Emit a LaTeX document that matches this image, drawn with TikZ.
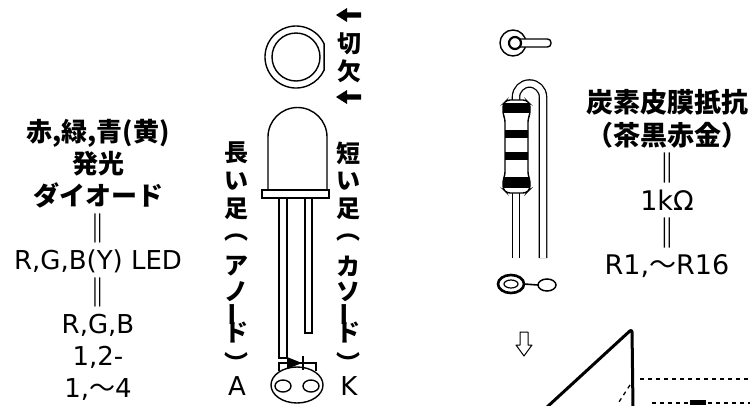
\documentclass[tikz,border=0pt]{standalone}
\usepackage{fontspec}
\usepackage{graphicx}
\setmainfont{DejaVu Sans}
\newfontfamily\jp{Noto Sans CJK JP}
\newcommand{\dbar}{{\jp\bfseries\raisebox{-1.5pt}{\scalebox{1.1}[1.12]{‖}}}}
\begin{document}
\begin{tikzpicture}[x=1pt,y=-1pt,
  lbl/.style={inner sep=0pt, align=center, font=\fontsize{26}{32}\selectfont},
  vch/.style={inner sep=0pt, font=\jp\bfseries\fontsize{24}{24}\selectfont},
  part/.style={draw=black, line width=1.4pt},
  lead/.style={draw=black, line width=1.3pt, double=white, double distance=6pt},
  heavy/.style={line width=3pt, line cap=round, line join=round},
  dotline/.style={line width=1.3pt, dash pattern=on 4pt off 4pt},
]
\useasboundingbox (0,0) rectangle (750,405);

% ---------- LED name column ----------
\node[lbl] (ledname) at (98,260) {%
  {\jp\bfseries 赤,緑,青(黄)}\\
  {\jp\bfseries 発光}\\
  {\jp\bfseries ダイオード}\\
  \dbar\\
  R,G,B(Y) LED\\
  \dbar\\
  R,G,B\\
  1,2-\\
  1,{\jp 〜}4};

% ---------- LED top view with flat ----------
\draw[part] (324.1,43.9) arc[start angle=25, end angle=335, radius=31pt] -- cycle;
\draw[part] (296,57) circle[radius=24pt];
% arrows pointing at the flat
\foreach \yy in {15,97}
  \fill (336,\yy) -- (347,\yy-7) -- (347,\yy-2.6) -- (361,\yy-2.6)
        -- (361,\yy+2.6) -- (347,\yy+2.6) -- (347,\yy+7) -- cycle;
\node[vch] (kiri) at (349,44) {切};
\node[vch] (ketsu) at (349,71) {欠};

% ---------- LED side view ----------
\draw[part, fill=white] (279,197) rectangle (287,358);
\draw[part, fill=white] (305,197) rectangle (312,333);
\draw[part, fill=white] (268,190) -- (268,137)
  arc[start angle=180, end angle=0, radius=29.5pt] -- (327,190);
\draw[part, fill=white] (262,190) rectangle (329,198);

% vertical labels of the legs
\foreach \c/\yy [count=\i] in {長/153, い/181, 足/209, ︵/238, ア/266, ノ/292, ド/333, ︶/362}
  \node[vch] (la\i) at (236,\yy) {\c};
\node[vch, rotate=90] (lalong) at (236,314) {ー};
\foreach \c/\yy [count=\i] in {短/153, い/181, 足/209, ︵/238, カ/266, ソ/292, ド/333, ︶/362}
  \node[vch] (lk\i) at (348,\yy) {\c};
\node[vch, rotate=90] (lklong) at (348,314) {ー};

% ---------- LED bottom view ----------
\draw[part] (297,385) ellipse[x radius=26pt, y radius=18pt];
\draw[part] (283,386) ellipse[x radius=8pt, y radius=6pt];
\draw[part] (311,386) ellipse[x radius=8pt, y radius=6pt];
\draw[line width=1.4pt] (279,371) -- (279,363) -- (316,363) -- (316,371);
\fill (287,357) -- (287,369) -- (302,363) -- cycle;
\draw[line width=2pt] (303,356) -- (303,370);
\node[lbl] (pinA) at (237,386) {A};
\node[lbl] (pinK) at (349,386) {K};

% ---------- resistor ----------
% end view
\draw[part] (513,43) circle[radius=13pt];
\draw[part, fill=white, rounded corners=3.5pt] (514,39) rectangle (551,47);
\draw[draw=black, line width=2.2pt, fill=white] (515,43) circle[radius=6pt];
% leads
\draw[lead] (516,102) -- (516,97) arc[start angle=180, end angle=0, radius=13.5pt] -- (543,258);
\draw[lead] (516,190) -- (516,258);
% body with colour bands
\fill[white, rounded corners=3pt] (505,119) -- (503,114) -- (503,104) -- (507,100) -- (526,100) -- (530,104) -- (530,114) -- (528,119) -- (528,175) -- (530,180) -- (530,189) -- (526,193) -- (507,193) -- (503,189) -- (503,180) -- (505,175) -- cycle;
\begin{scope}
  \clip[rounded corners=3pt] (505,119) -- (503,114) -- (503,104) -- (507,100) -- (526,100) -- (530,104) -- (530,114) -- (528,119) -- (528,175) -- (530,180) -- (530,189) -- (526,193) -- (507,193) -- (503,189) -- (503,180) -- (505,175) -- cycle;
  \fill (500,103) rectangle (534,113);
  \fill (500,130) rectangle (534,138);
  \fill (500,152) rectangle (534,160);
  \fill (500,177) rectangle (534,188);
\end{scope}
\draw[part, rounded corners=3pt] (505,119) -- (503,114) -- (503,104) -- (507,100) -- (526,100) -- (530,104) -- (530,114) -- (528,119) -- (528,175) -- (530,180) -- (530,189) -- (526,193) -- (507,193) -- (503,189) -- (503,180) -- (505,175) -- cycle;
% bent lead loop, seen from below
\draw[line width=2.6pt] (511,284) ellipse[x radius=13pt, y radius=9pt];
\draw[line width=1.2pt] (511,284) ellipse[x radius=7pt, y radius=4pt];
\draw[line width=1.6pt] (524,284) -- (538,285);
\draw[line width=1.5pt] (547,285) ellipse[x radius=9pt, y radius=6pt];

\node[lbl, font=\fontsize{27}{32.4}\selectfont] (resname) at (667,184) {%
  {\jp\bfseries 炭素皮膜抵抗}\\
  {\jp\bfseries （茶黒赤金）}\\
  \dbar\\
  1kΩ\\
  \dbar\\
  R1,{\jp 〜}R16};

% ---------- next step ----------
\draw[line width=1pt, line join=round] (520,332) -- (528,332) -- (528,345) -- (532,345) -- (524,356) -- (516,345) -- (520,345) -- cycle;
\coordinate (tb) at (546,408);
\coordinate (tt) at (632,329);
\coordinate (tv) at (633,408);
\draw[heavy, rounded corners=3pt] (tb) -- (tt) -- (tv);
\coordinate (d1) at (640,379); \coordinate (d2) at (750,379);
\draw[dotline] (d1) -- (d2);
\coordinate (d3) at (630,385); \coordinate (d4) at (617,405);
\draw[dotline] (d3) -- (d4);
\coordinate (d5) at (652,403); \coordinate (d6) at (750,403);
\draw[dotline] (d5) -- (d6);
\fill (690,400) rectangle (706,405);
\end{tikzpicture}
\end{document}
